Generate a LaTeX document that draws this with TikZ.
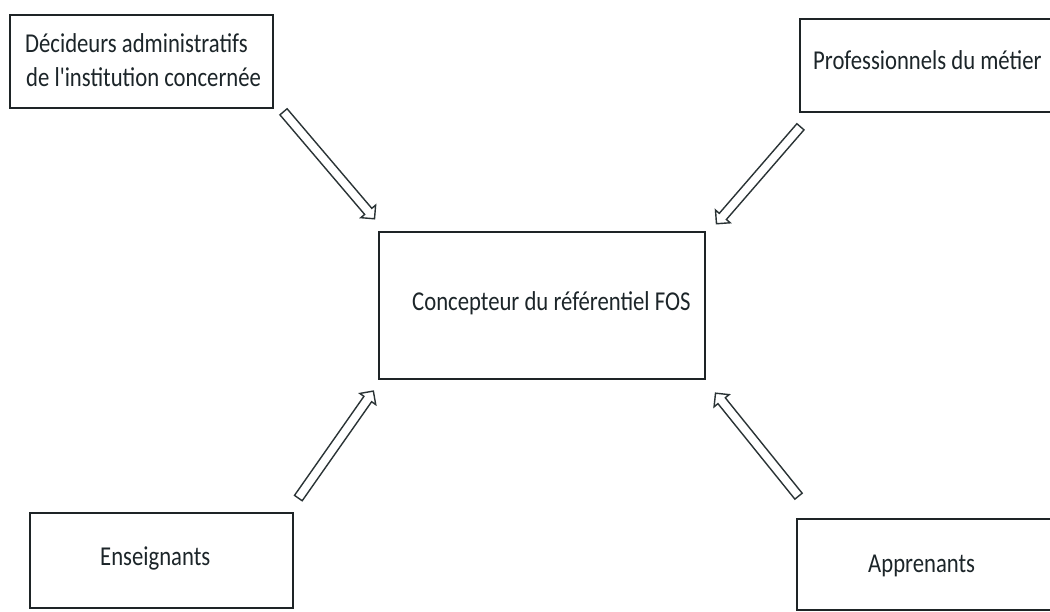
\documentclass[tikz,border=0pt]{standalone}
\usepackage{fontspec}
\setmainfont{Carlito}
\usetikzlibrary{shapes.arrows,calc}
\definecolor{boxcol}{HTML}{1E2426}
\definecolor{txtcol}{HTML}{1C2529}
\definecolor{arrcol}{HTML}{2A3335}
\newcommand\hollowarr[3]{%
  \path let \p1=(#2), \p2=(#3), \n1={atan2(\y2-\y1,\x2-\x1)}, \n2={veclen(\x2-\x1,\y2-\y1)} in
    node[harrow, minimum height=\n2, rotate=\n1] (#1) at ($(#2)!0.5!(#3)$) {};}
\begin{document}
\begin{tikzpicture}[x=1pt,y=1pt,
  box/.style={draw=boxcol, line width=1.6pt, inner sep=0pt, anchor=center},
  lbl/.style={anchor=base west, inner sep=0pt, font=\fontsize{22.7}{27}\selectfont, text=txtcol},
  harrow/.style={single arrow, draw=arrcol, line width=1.4pt, inner sep=4pt,
    single arrow head extend=5pt, anchor=center}]
\useasboundingbox (0,0) rectangle (1050,611);
\fill[white] (0,0) rectangle (1050,611);
% boxes
\node[box, minimum width=263, minimum height=93] (dec) at (141.5,549.5) {};
\node[box, minimum width=252, minimum height=93] (pro) at (926,545.5) {};
\node[box, minimum width=326, minimum height=147] (con) at (542,305.5) {};
\node[box, minimum width=263, minimum height=95] (ens) at (161.5,50.5) {};
\node[box, minimum width=255, minimum height=91] (app) at (924.5,46.5) {};
% labels
\node[lbl] (tdec1) at (25,558) {\scalebox{1}[1.2]{Décideurs administratifs}};
\node[lbl] (tdec2) at (26,524) {\scalebox{1}[1.2]{de l\textquotesingle institution concernée}};
\node[lbl] (tpro) at (813,541) {\scalebox{1}[1.2]{Professionnels du métier}};
\node[lbl] (tcon) at (412,300) {\scalebox{1}[1.2]{Concepteur du référentiel FOS}};
\node[lbl] (tens) at (100,46) {\scalebox{1}[1.2]{Enseignants}};
\node[lbl] (tapp) at (868,39) {\scalebox{1}[1.2]{Apprenants}};
% arrow end points
\coordinate (s1) at (282,501); \coordinate (e1) at (373,394);
\coordinate (s2) at (802,486); \coordinate (e2) at (718,389);
\coordinate (s3) at (297,111); \coordinate (e3) at (372,218);
\coordinate (s4) at (800,113); \coordinate (e4) at (717,216);
\hollowarr{a1}{s1}{e1}
\hollowarr{a2}{s2}{e2}
\hollowarr{a3}{s3}{e3}
\hollowarr{a4}{s4}{e4}
\end{tikzpicture}
\end{document}
